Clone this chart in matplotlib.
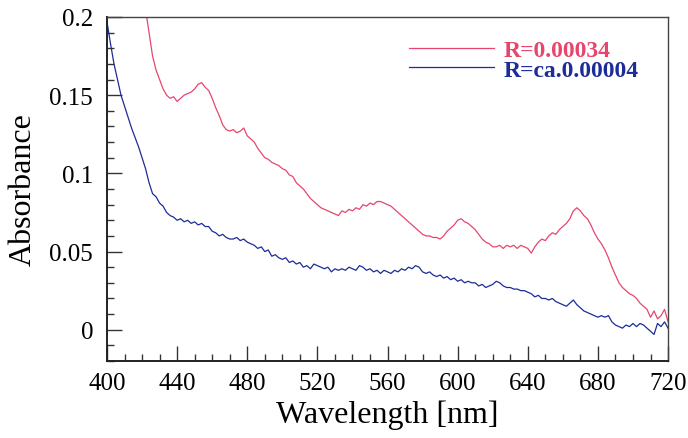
import matplotlib
matplotlib.use("Agg")
import matplotlib.pyplot as plt
import numpy as np
from matplotlib.ticker import MultipleLocator

plt.rcParams["font.family"] = ["Liberation Serif", "DejaVu Serif"]

# absorbance spectra, sampled every 2 nm
WL_BLUE = np.arange(400, 722, 2)
ABS_BLUE = [
    0.197, 0.183, 0.170, 0.160, 0.150, 0.143, 0.136, 0.129, 0.123, 0.117,
    0.110, 0.103, 0.094, 0.087, 0.085, 0.081, 0.079, 0.075, 0.073, 0.072,
    0.070, 0.071, 0.069, 0.070, 0.068, 0.069, 0.067, 0.068, 0.066, 0.066,
    0.063, 0.062, 0.060, 0.061, 0.059, 0.058, 0.058, 0.059, 0.057, 0.058,
    0.056, 0.055, 0.054, 0.052, 0.053, 0.050, 0.051, 0.047, 0.048, 0.046,
    0.045, 0.046, 0.043, 0.044, 0.042, 0.043, 0.040, 0.041, 0.039, 0.042,
    0.041, 0.040, 0.039, 0.040, 0.037, 0.039, 0.038, 0.039, 0.038, 0.040,
    0.039, 0.038, 0.041, 0.040, 0.038, 0.039, 0.037, 0.038, 0.036, 0.038,
    0.037, 0.036, 0.038, 0.037, 0.039, 0.038, 0.040, 0.039, 0.041, 0.040,
    0.037, 0.036, 0.037, 0.035, 0.034, 0.035, 0.033, 0.034, 0.032, 0.033,
    0.031, 0.032, 0.030, 0.031, 0.030, 0.030, 0.028, 0.029, 0.027, 0.028,
    0.029, 0.031, 0.030, 0.028, 0.027, 0.027, 0.026, 0.026, 0.025, 0.025,
    0.024, 0.023, 0.021, 0.022, 0.020, 0.020, 0.019, 0.020, 0.018, 0.017,
    0.016, 0.015, 0.017, 0.019, 0.016, 0.014, 0.012, 0.011, 0.010, 0.009,
    0.008, 0.009, 0.008, 0.009, 0.005, 0.003, 0.002, 0.001, 0.003, 0.002,
    0.004, 0.002, 0.004, 0.003, 0.001, -0.001, -0.003, 0.004, 0.002, 0.005,
    0.001,
]

WL_RED = np.arange(420, 722, 2)
ABS_RED = [
    0.215, 0.205, 0.190, 0.175, 0.166, 0.160, 0.154, 0.150, 0.148, 0.149,
    0.146, 0.148, 0.150, 0.151, 0.152, 0.154, 0.157, 0.158, 0.155, 0.153,
    0.148, 0.142, 0.137, 0.131, 0.128, 0.127, 0.128, 0.126, 0.127, 0.129,
    0.124, 0.122, 0.120, 0.116, 0.113, 0.110, 0.109, 0.107, 0.106, 0.105,
    0.103, 0.102, 0.099, 0.098, 0.094, 0.092, 0.090, 0.087, 0.084, 0.082,
    0.080, 0.078, 0.077, 0.076, 0.075, 0.074, 0.073, 0.076, 0.075, 0.077,
    0.076, 0.078, 0.077, 0.080, 0.079, 0.081, 0.080, 0.082, 0.082, 0.081,
    0.080, 0.079, 0.077, 0.075, 0.073, 0.071, 0.069, 0.067, 0.065, 0.063,
    0.061, 0.060, 0.060, 0.059, 0.059, 0.058, 0.060, 0.063, 0.065, 0.067,
    0.070, 0.071, 0.069, 0.068, 0.066, 0.064, 0.061, 0.058, 0.056, 0.055,
    0.053, 0.053, 0.054, 0.052, 0.054, 0.053, 0.054, 0.052, 0.054, 0.053,
    0.052, 0.049, 0.053, 0.056, 0.058, 0.057, 0.060, 0.062, 0.061, 0.064,
    0.066, 0.068, 0.071, 0.076, 0.078, 0.076, 0.073, 0.071, 0.067, 0.062,
    0.058, 0.055, 0.051, 0.046, 0.040, 0.035, 0.030, 0.027, 0.025, 0.023,
    0.022, 0.020, 0.017, 0.015, 0.013, 0.008, 0.012, 0.007, 0.009, 0.013,
    0.005,
]

LABEL_RED = "R=0.00034"
LABEL_BLUE = "R=ca.0.00004"
RED = "#e8456e"
BLUE = "#1c2c98"

fig = plt.figure(figsize=(6.88, 4.39), dpi=100)
ax = fig.add_axes([0.1555, 0.1754, 0.8155, 0.7836])

ax.plot(WL_RED, ABS_RED, color=RED, lw=0.9, label=LABEL_RED)
ax.plot(WL_BLUE, ABS_BLUE, color=BLUE, lw=0.9, label=LABEL_BLUE)

ax.set_xlim(400, 720)
ax.set_ylim(-0.02, 0.2)
ax.xaxis.set_major_locator(MultipleLocator(40))
ax.xaxis.set_minor_locator(MultipleLocator(10))
ax.yaxis.set_minor_locator(MultipleLocator(0.01))
ax.set_yticks([0, 0.05, 0.1, 0.15, 0.2])
ax.set_yticklabels(["0", "0.05", "0.1", "0.15", "0.2"])

ax.tick_params(which="both", direction="in", top=False, right=False,
               color="#333333", width=1.0)
ax.tick_params(which="major", length=11, labelsize=18, pad=8)
ax.tick_params(axis="y", which="major", pad=10)
ax.tick_params(which="minor", length=5)
for side in ["left", "bottom"]:
    ax.spines[side].set_linewidth(1.4)
    ax.spines[side].set_color("#222222")
for side in ["top", "right"]:
    ax.spines[side].set_linewidth(1.0)
    ax.spines[side].set_color("#444444")

ax.set_xlabel("Wavelength [nm]", fontsize=23, labelpad=4)
ax.set_ylabel("Absorbance", fontsize=23, labelpad=8)

ax.legend(loc="upper right", bbox_to_anchor=(0.985, 0.995), frameon=False,
          handlelength=3.6, handletextpad=0.4, labelspacing=-0.1,
          labelcolor="linecolor",
          prop={"weight": "bold", "size": 17})

fig.savefig("out.png", dpi=100, facecolor="white")
